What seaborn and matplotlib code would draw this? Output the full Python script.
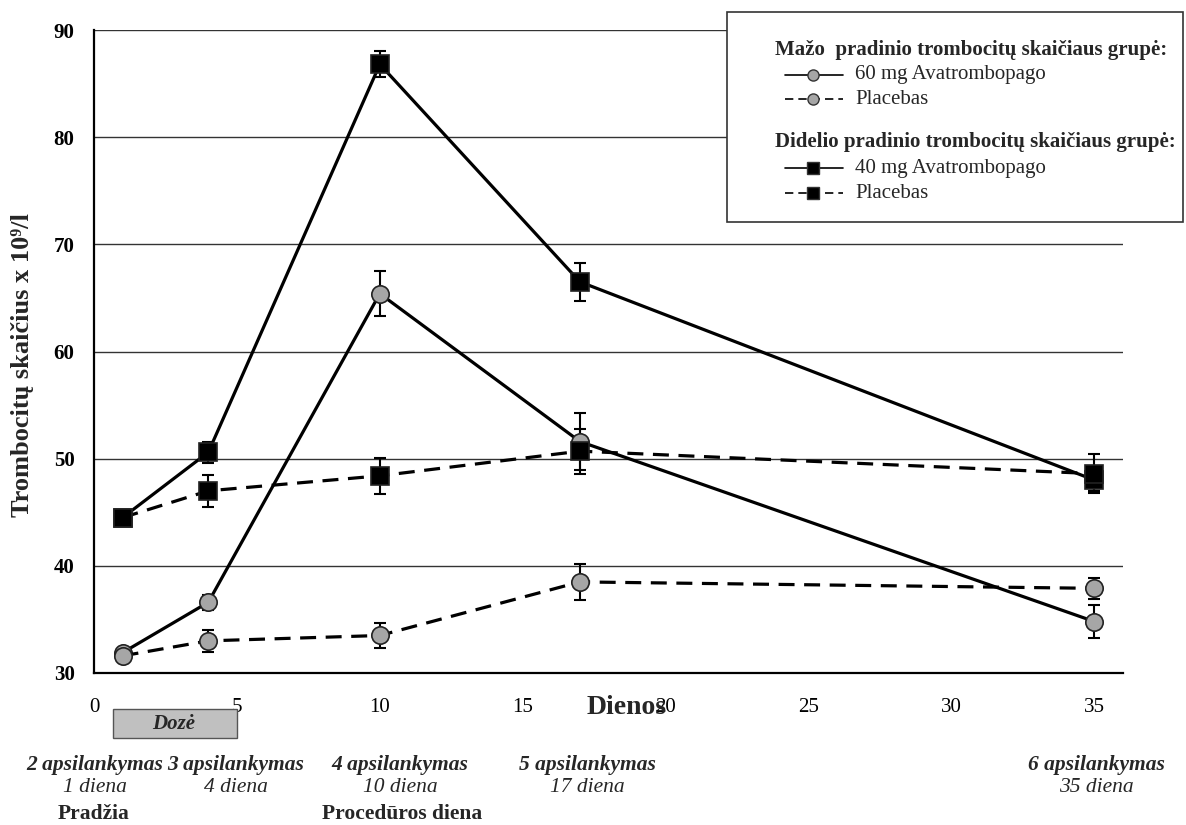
import matplotlib
matplotlib.use("Agg")
import matplotlib.pyplot as plt
from matplotlib.lines import Line2D
from matplotlib.patches import Rectangle
import seaborn as sns
import pandas as pd

# data
days = [1, 4, 10, 17, 35]
low_avatro = [31.9, 36.6, 65.4, 51.6, 34.8]
low_avatro_err = [0.4, 0.7, 2.1, 2.7, 1.5]
low_placebo = [31.6, 33.0, 33.5, 38.5, 37.9]
low_placebo_err = [0.3, 1.0, 1.2, 1.7, 1.0]
high_avatro = [44.5, 50.6, 86.8, 66.5, 48.0]
high_avatro_err = [0.5, 1.0, 1.2, 1.8, 1.0]
high_placebo = [44.5, 47.0, 48.4, 50.7, 48.6]
high_placebo_err = [0.4, 1.5, 1.7, 2.1, 1.8]

visit_names = ["2 apsilankymas", "3 apsilankymas", "4 apsilankymas", "5 apsilankymas", "6 apsilankymas"]
visit_days = ["1 diena", "4 diena", "10 diena", "17 diena", "35 diena"]
visit_x = [95, 236, 400, 587, 1096]  # pixel centres of the labels

W, H = 1186, 825
def fx(x):
    return x / W
def fy(y):
    return 1 - y / H

sns.set_style("white")
plt.rcParams['font.family'] = ['Liberation Serif', 'DejaVu Serif']

fig = plt.figure(figsize=(W / 100, H / 100), dpi=100)
ax = fig.add_axes([fx(94), fy(673), fx(1123) - fx(94), fy(30) - fy(673)])

gray = "#a6a6a6"
series = [
    (low_avatro, low_avatro_err, "-", "o", gray, 12.5),
    (low_placebo, low_placebo_err, "--", "o", gray, 12.5),
    (high_avatro, high_avatro_err, "-", "s", "black", 13),
    (high_placebo, high_placebo_err, "--", "s", "black", 13),
]
for vals, errs, ls, mk, fc, ms in series:
    df = pd.DataFrame({"day": days, "val": vals})
    ax.errorbar(days, vals, yerr=errs, fmt="none", ecolor="black",
                elinewidth=1.5, capsize=4, capthick=1.5, zorder=2)
    sns.lineplot(data=df, x="day", y="val", ax=ax, color="black", lw=2.3,
                 linestyle=ls, marker=mk, markersize=ms, markerfacecolor=fc,
                 markeredgecolor="#222222", markeredgewidth=1.2, zorder=3)
    if ls == "--":
        ax.lines[-1].set_dashes((5, 3))

ax.set_xlim(0, 36)
ax.set_ylim(30, 90)
ax.set_xticks(range(0, 40, 5))
ax.set_yticks(range(30, 100, 10))
for y in range(40, 100, 10):
    ax.axhline(y, color="#333333", lw=1, zorder=1)
ax.set_xlabel("")
ax.set_ylabel("")
for s in ["top", "right"]:
    ax.spines[s].set_visible(False)
for s in ["left", "bottom"]:
    ax.spines[s].set_color("black")
    ax.spines[s].set_linewidth(1.6)
ax.tick_params(axis="both", which="both", direction="out", width=1.6,
               color="black", labelsize=15, labelcolor="black")
ax.tick_params(axis="y", length=0, pad=14)
ax.tick_params(axis="x", length=5, pad=13)
for lbl in ax.get_yticklabels():
    lbl.set_fontweight("bold")

fig.text(fx(23), fy(365), "Trombocitų skaičius x 10⁹/l", rotation=90, ha="center",
         va="center", fontsize=19, fontweight="bold")
fig.text(fx(627), fy(708), "Dienos", ha="center", va="center", fontsize=20, fontweight="bold")

# dose box
fig.add_artist(Rectangle((fx(113), fy(738)), fx(237) - fx(113), fy(709) - fy(738),
                         transform=fig.transFigure, facecolor="#c0c0c0", edgecolor="#555555", lw=1))
fig.text(fx(174), fy(724), "Dozė", ha="center", va="center", fontsize=15,
         fontweight="bold", style="italic")

for x, name, d in zip(visit_x, visit_names, visit_days):
    fig.text(fx(x), fy(765), name, ha="center", va="center", fontsize=15.5,
             fontweight="bold", style="italic")
    fig.text(fx(x), fy(787), d, ha="center", va="center", fontsize=15.5, style="italic")
fig.text(fx(94), fy(814), "Pradžia", ha="center", va="center", fontsize=15.5, fontweight="bold")
fig.text(fx(402), fy(814), "Procedūros diena", ha="center", va="center", fontsize=15.5, fontweight="bold")

# legend box
fig.add_artist(Rectangle((fx(727), fy(222)), fx(1183) - fx(727), fy(12) - fy(222),
                         transform=fig.transFigure, facecolor="white", edgecolor="#333333", lw=1.2))
fig.text(fx(775), fy(50), "Mažo  pradinio trombocitų skaičiaus grupė:", ha="left", va="center",
         fontsize=15, fontweight="bold")
fig.text(fx(775), fy(142), "Didelio pradinio trombocitų skaičiaus grupė:", ha="left", va="center",
         fontsize=15, fontweight="bold")
entries = [
    (75, "-", "o", gray, "60 mg Avatrombopago"),
    (99, "--", "o", gray, "Placebas"),
    (168, "-", "s", "black", "40 mg Avatrombopago"),
    (193, "--", "s", "black", "Placebas"),
]
for y, ls, mk, fc, label in entries:
    line = Line2D([fx(785), fx(843)], [fy(y), fy(y)], transform=fig.transFigure,
                  color="black", lw=1.2, linestyle=ls)
    if ls == "--":
        line.set_dashes((5, 3))
    fig.add_artist(line)
    fig.add_artist(Line2D([fx(813)], [fy(y)], transform=fig.transFigure, marker=mk,
                          markersize=8, markerfacecolor=fc, markeredgecolor="#333333",
                          markeredgewidth=1, linestyle="none"))
    fig.text(fx(855), fy(y), label, ha="left", va="center", fontsize=15)

fig.savefig("out.png", dpi=100)
